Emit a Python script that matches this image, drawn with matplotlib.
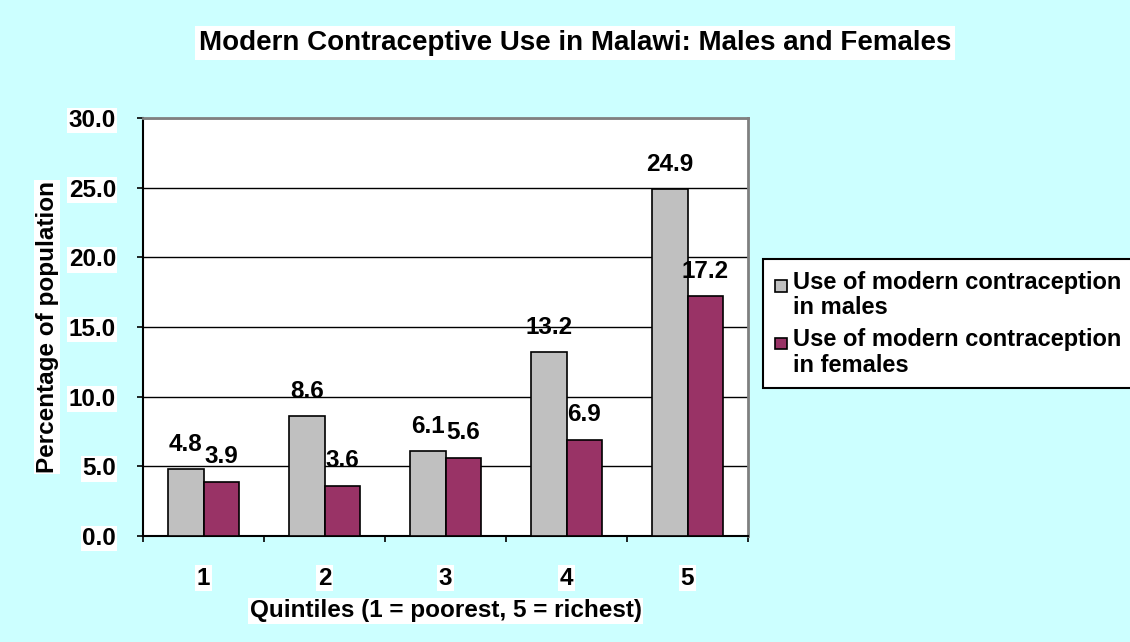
import numpy as np
import matplotlib
matplotlib.use("Agg")
import matplotlib.pyplot as plt
from matplotlib.patches import Rectangle
from matplotlib.container import BarContainer
from matplotlib.legend_handler import HandlerPatch

# data
quintiles = ['1', '2', '3', '4', '5']
males = [4.8, 8.6, 6.1, 13.2, 24.9]
females = [3.9, 3.6, 5.6, 6.9, 17.2]
lab_males = 'Use of modern contraception\nin males'
lab_females = 'Use of modern contraception\nin females'

plt.rcParams['font.family'] = ['Liberation Sans', 'DejaVu Sans']
plt.rcParams['font.weight'] = 'bold'
fs = 17.5

bg = '#CCFFFF'
fig = plt.figure(figsize=(11.3, 6.42), dpi=100, facecolor=bg)
ax = fig.add_axes([143/1130, 1-536/642, (748-143)/1130, (536-118)/642])
ax.set_facecolor('white')

x = np.arange(1, 6)
w = 0.29
b1 = ax.bar(x - w/2, males, w, color='#C0C0C0', edgecolor='black', linewidth=1.2,
            label=lab_males, zorder=3)
b2 = ax.bar(x + w/2, females, w, color='#993366', edgecolor='black', linewidth=1.2,
            label=lab_females, zorder=3)

for bars, vals in [(b1, males), (b2, females)]:
    for r, v in zip(bars, vals):
        ax.annotate('%.1f' % v, (r.get_x() + r.get_width()/2, v),
                    xytext=(0, 18), textcoords='offset points',
                    ha='center', va='center', fontsize=fs, fontweight='bold', zorder=4)

ax.set_xlim(0.5, 5.5)
ax.set_ylim(0, 30)
ax.set_yticks(np.arange(0, 31, 5))
ax.set_yticklabels(['%.1f' % t for t in np.arange(0, 31, 5)])
ax.set_xticks(np.arange(0.5, 5.6, 1))
ax.set_xticklabels([])
ax.set_xticks(x, minor=True)
ax.set_xticklabels(quintiles, minor=True)
ax.tick_params(axis='x', which='minor', length=0, pad=22, labelsize=fs)
ax.tick_params(axis='x', which='major', direction='out', length=4.5, width=1.2)
ax.tick_params(axis='y', direction='out', length=4.5, width=1.2, labelsize=fs, pad=15)
for lab in ax.get_yticklabels() + ax.get_xticklabels(minor=True):
    lab.set_fontweight('bold')
    lab.set_bbox(dict(facecolor='white', edgecolor='none', pad=1))

ax.grid(axis='y', color='black', linewidth=1, zorder=0)
ax.spines['left'].set_linewidth(1.5)
ax.spines['bottom'].set_linewidth(1.5)
for s in ['top', 'right']:
    ax.spines[s].set_color('#808080')
    ax.spines[s].set_linewidth(2)

ax.set_ylabel('Percentage of population', fontsize=fs, fontweight='bold', labelpad=7,
              bbox=dict(facecolor='white', edgecolor='none', pad=1))
ax.set_xlabel('Quintiles (1 = poorest, 5 = richest)', fontsize=fs, fontweight='bold',
              labelpad=7, bbox=dict(facecolor='white', edgecolor='none', pad=1))

fig.text(575/1130, 1-43/642, 'Modern Contraceptive Use in Malawi: Males and Females',
         ha='center', va='center', fontsize=20, fontweight='bold',
         bbox=dict(facecolor='white', edgecolor='none', pad=3))


# small square sitting next to the first line of each label
def top_square(legend, orig_handle, xdescent, ydescent, width, height, fontsize):
    s = 0.5 * fontsize
    return Rectangle((-xdescent, -ydescent + height - s - 0.2 * fontsize), s, s)


def first_child(legend_handle, orig_handle):
    legend_handle.update_from(orig_handle[0])


leg = fig.legend(loc='upper left', bbox_to_anchor=(763/1130, 1-259/642),
                 fontsize=17, frameon=True, fancybox=False, edgecolor='black',
                 framealpha=1, facecolor='white',
                 handlelength=0.5, handleheight=2.4, handletextpad=0.25,
                 borderpad=0.5, labelspacing=0.4, borderaxespad=0,
                 handler_map={BarContainer: HandlerPatch(patch_func=top_square,
                                                         update_func=first_child)})
leg.get_frame().set_linewidth(1.5)
for t in leg.get_texts():
    t.set_fontweight('bold')
    t.set_linespacing(1.12)

fig.savefig('out.png', dpi=100, facecolor=bg)
